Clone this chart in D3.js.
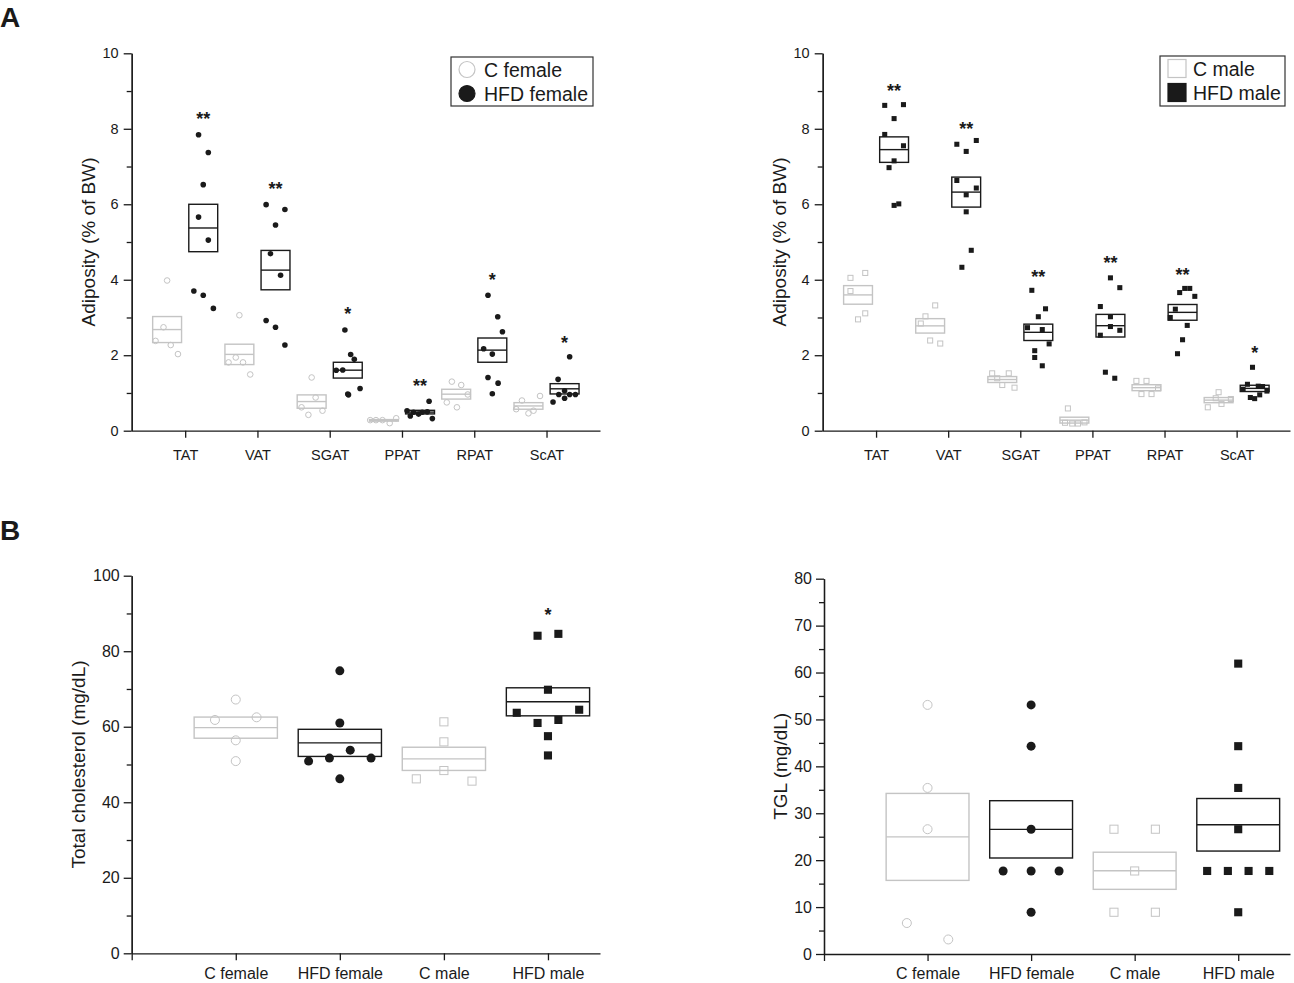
<!DOCTYPE html>
<html>
<head>
<meta charset="utf-8">
<script src="https://cdn.jsdelivr.net/npm/d3@7"></script>
<style>
  body { margin: 0; background: #fff; }
  svg { font-family: Arial, "Liberation Sans", sans-serif; }
</style>
</head>
<body>
<svg id="fig" width="1294" height="983"></svg>
<script>
// ---- data ----
const depots = ["TAT", "VAT", "SGAT", "PPAT", "RPAT", "ScAT"];
const groups = ["C female", "HFD female", "C male", "HFD male"];

// Adiposity (% of BW), one array per depot, one value per animal
const cFemaleAdip = [
  [3.98, 2.74, 2.38, 2.27, 2.03],
  [3.06, 1.94, 1.81, 1.81, 1.49],
  [1.41, 0.88, 0.62, 0.53, 0.42],
  [0.28, 0.28, 0.28, 0.20, 0.33],
  [1.30, 1.21, 0.96, 0.75, 0.62],
  [0.92, 0.80, 0.57, 0.53, 0.46]
];
const hfdFemaleAdip = [
  [7.84, 7.37, 6.52, 5.66, 5.05, 3.70, 3.59, 3.24],
  [5.99, 5.86, 5.45, 4.69, 4.12, 2.92, 2.74, 2.27],
  [2.67, 2.02, 1.89, 1.61, 1.60, 1.12, 0.97, 0.95],
  [0.78, 0.53, 0.50, 0.49, 0.49, 0.44, 0.39, 0.32],
  [3.59, 3.02, 2.62, 2.17, 2.03, 1.41, 1.26, 0.98],
  [1.96, 1.36, 1.06, 0.96, 0.96, 0.96, 0.86, 0.76]
];
const cMaleAdip = [
  [4.18, 4.05, 3.70, 3.11, 2.95],
  [3.32, 3.03, 2.84, 2.39, 2.31],
  [1.52, 1.52, 1.39, 1.21, 1.14],
  [0.59, 0.22, 0.21, 0.19, 0.19],
  [1.32, 1.32, 1.12, 0.97, 0.97],
  [1.02, 0.86, 0.84, 0.71, 0.62]
];
const hfdMaleAdip = [
  [8.64, 8.62, 8.27, 7.85, 7.55, 7.15, 6.97, 6.01, 5.97],
  [7.69, 7.59, 7.40, 6.63, 6.43, 6.25, 5.80, 4.78, 4.33],
  [3.72, 3.23, 3.02, 2.73, 2.68, 2.30, 2.12, 1.94, 1.72],
  [4.05, 3.79, 3.29, 3.02, 2.76, 2.66, 2.53, 1.55, 1.39],
  [3.77, 3.77, 3.66, 3.56, 3.22, 3.00, 2.79, 2.41, 2.04],
  [1.68, 1.23, 1.18, 1.17, 1.10, 1.05, 0.95, 0.88, 0.85]
];

// horizontal scatter of each point, in category units (as plotted in the figure)
const cFemaleAdipJit = [
  [0, -0.05, -0.16, 0.05, 0.15],
  [0, -0.05, -0.15, 0.05, 0.15],
  [0, 0.055, -0.14, 0.15, -0.045],
  [-0.19, -0.11, -0.02, 0.08, 0.17],
  [-0.06, 0.07, 0.16, -0.13, 0.01],
  [0.16, -0.09, -0.17, 0.07, 0]
];
const hfdFemaleAdipJit = [
  [-0.065, 0.07, 0, -0.065, 0.07, -0.13, 0, 0.14],
  [-0.13, 0.13, 0, -0.07, 0.07, -0.13, 0, 0.13],
  [-0.04, 0.04, 0.09, -0.07, -0.16, 0.17, 0, 0.01],
  [0.125, -0.18, 0.1, 0.03, -0.09, -0.02, -0.135, 0.17],
  [-0.06, 0.075, 0.14, -0.12, 0, -0.06, 0.08, 0],
  [0.07, -0.09, 0, -0.08, 0.07, 0.15, 0, -0.16]
];
const cMaleAdipJit = [
  [0.1, -0.105, -0.105, 0.1, 0],
  [0.07, -0.065, -0.13, 0, 0.14],
  [-0.14, 0.09, -0.07, 0, 0.17],
  [-0.09, 0.14, -0.13, -0.03, 0.05],
  [-0.14, 0, 0.16, -0.07, 0.07],
  [0, -0.04, 0.17, 0.04, -0.15]
];
const hfdMaleAdipJit = [
  [0.13, -0.13, 0, -0.13, 0.13, 0, -0.07, 0.065, 0],
  [0.14, -0.13, 0, -0.13, 0.14, 0, 0, 0.07, -0.06],
  [-0.09, 0.1, 0, -0.15, 0.055, 0.15, -0.05, -0.05, 0.055],
  [0, 0.13, -0.14, 0, 0, 0.13, -0.14, -0.07, 0.06],
  [0.03, 0.1, -0.04, 0.17, -0.1, -0.17, 0.065, 0, -0.07],
  [-0.03, -0.1, 0.05, 0.11, -0.16, 0.17, 0.07, -0.06, 0]
];

// significance marks above the HFD groups
const femaleStars = ["**", "**", "*", "**", "*", "*"];
const femaleStarAt = [8.39, 6.54, 3.22, 1.31, 4.13, 2.46];
const maleStars = ["**", "**", "**", "**", "**", "*"];
const maleStarAt = [9.12, 8.11, 4.19, 4.56, 4.26, 2.18];

// Total cholesterol (mg/dL)
const cholValues = [
  [67.2, 62.5, 61.8, 56.4, 50.9],
  [74.8, 61.0, 53.8, 51.7, 51.7, 50.9, 46.2],
  [61.3, 56.0, 48.4, 46.2, 45.6],
  [84.6, 84.1, 69.8, 64.5, 63.7, 61.8, 61.0, 57.5, 52.4]
];
const cholJit = [
  [0, 0.2, -0.2, 0, 0],
  [0, 0, 0.1, -0.1, 0.3, -0.3, 0],
  [0, 0, 0, -0.265, 0.27],
  [0.1, -0.1, 0, 0.3, -0.3, 0.1, -0.1, 0, 0]
];
const cholStars = ["", "", "", "*"];
const cholStarAt = [0, 0, 0, 90.9];

// TGL (mg/dL)
const tglValues = [
  [53.1, 35.4, 26.6, 6.6, 3.1],
  [53.1, 44.3, 26.6, 17.7, 17.7, 17.7, 8.9],
  [26.6, 26.6, 17.7, 8.9, 8.9],
  [61.9, 44.3, 35.4, 26.6, 17.7, 17.7, 17.7, 17.7, 8.9]
];
const tglJit = [
  [0, 0, 0, -0.2, 0.2],
  [0, 0, 0, -0.27, 0, 0.27, 0],
  [-0.2, 0.2, 0, -0.2, 0.2],
  [0, 0, 0, 0, -0.3, -0.1, 0.1, 0.3, 0]
];

// ---- drawing ----
const svg = d3.select("#fig");
const GREY = "#c4c4c4";
const INK = "#1a1a1a";

function styleAxis(sel, fontSize) {
  sel.selectAll("path, line").attr("stroke", INK).attr("stroke-width", 1.3);
  sel.selectAll("text").attr("fill", INK).style("font-size", fontSize + "px");
}

function drawPanel(p) {
  const g = svg.append("g");
  const x = d3.scaleLinear().domain(p.xDomain).range([p.left, p.right]);
  const y = d3.scaleLinear().domain(p.yDomain).range([p.bottom, p.top]);

  // minor + major y ticks
  g.append("g")
    .attr("transform", "translate(" + p.left + ",0)")
    .call(d3.axisLeft(y).tickValues(p.yMinor).tickSize(5).tickFormat("").tickSizeOuter(0))
    .call(styleAxis, p.tickFont);
  g.append("g")
    .attr("transform", "translate(" + p.left + ",0)")
    .call(d3.axisLeft(y).tickValues(p.yMajor).tickSize(8).tickPadding(p.yPad).tickSizeOuter(0))
    .call(styleAxis, p.tickFont);

  // category axis
  g.append("g")
    .attr("transform", "translate(0," + p.bottom + ")")
    .call(d3.axisBottom(x).tickValues(p.xTicks)
      .tickFormat(i => p.categories[i - 1] || "")
      .tickSize(7).tickPadding(p.xPad).tickSizeOuter(0))
    .call(styleAxis, p.tickFont);

  // y label
  g.append("text")
    .attr("transform", "translate(" + p.labelX + "," + (p.top + p.bottom) / 2 + ") rotate(-90)")
    .attr("text-anchor", "middle")
    .attr("dy", "0.35em")
    .style("font-size", "19px")
    .attr("fill", INK)
    .text(p.yLabel);

  // mean ± SE boxes, then the individual points
  p.series.forEach(s => {
    const col = s.dark ? INK : GREY;
    const cx = s.cat + s.shift;
    const m = d3.mean(s.values);
    const se = d3.deviation(s.values) / Math.sqrt(s.values.length);
    const x0 = x(cx - p.boxWidth / 2), x1 = x(cx + p.boxWidth / 2);

    g.append("rect")
      .attr("x", x0).attr("width", x1 - x0)
      .attr("y", y(m + se)).attr("height", y(m - se) - y(m + se))
      .attr("fill", "none").attr("stroke", col).attr("stroke-width", 1.4);
    g.append("line")
      .attr("x1", x0).attr("x2", x1)
      .attr("y1", y(m)).attr("y2", y(m))
      .attr("stroke", col).attr("stroke-width", 1.4);

    const pts = s.values.map((v, i) => ({ v: v, j: s.jitter[i] }));
    if (s.shape === "circle") {
      g.selectAll(null).data(pts).enter().append("circle")
        .attr("cx", d => x(cx + d.j))
        .attr("cy", d => y(d.v))
        .attr("r", p.markR)
        .attr("fill", s.dark ? INK : "none")
        .attr("stroke", col).attr("stroke-width", s.dark ? 0 : 1);
    } else {
      const sz = p.markR * 1.8;
      g.selectAll(null).data(pts).enter().append("rect")
        .attr("x", d => x(cx + d.j) - sz / 2)
        .attr("y", d => y(d.v) - sz / 2)
        .attr("width", sz).attr("height", sz)
        .attr("fill", s.dark ? INK : "none")
        .attr("stroke", col).attr("stroke-width", s.dark ? 0 : 1);
    }
  });

  // significance asterisks
  g.selectAll(".star")
    .data(p.stars)
    .enter().append("text")
    .attr("class", "star")
    .attr("x", d => x(d.cat))
    .attr("y", d => y(d.at))
    .attr("dy", "0.6em")
    .attr("text-anchor", "middle")
    .style("font-size", "18px")
    .style("font-weight", "bold")
    .attr("fill", INK)
    .text(d => d.mark);

  return { x, y };
}

function adiposityPanel(left, right, labelX, cVals, cJit, hVals, hJit, shape, marks, markAt) {
  const series = [];
  depots.forEach((d, i) => {
    series.push({ cat: i + 1, shift: -0.25, values: cVals[i], jitter: cJit[i], dark: false, shape: shape });
    series.push({ cat: i + 1, shift: 0.25, values: hVals[i], jitter: hJit[i], dark: true, shape: shape });
  });
  drawPanel({
    left: left, right: right, top: 53.3, bottom: 430.7,
    xDomain: [0.26, 6.74], xTicks: [1, 2, 3, 4, 5, 6], categories: depots,
    yDomain: [0, 10], yMajor: [0, 2, 4, 6, 8, 10], yMinor: [1, 3, 5, 7, 9],
    tickFont: 14.5, xPad: 12, yPad: 5,
    labelX: labelX, yLabel: "Adiposity (% of BW)",
    boxWidth: 0.4, markR: 2.8,
    series: series,
    stars: marks.map((m, i) => ({ cat: i + 1.25, at: markAt[i], mark: m }))
  });
}

adiposityPanel(131.7, 600, 88, cFemaleAdip, cFemaleAdipJit, hfdFemaleAdip, hfdFemaleAdipJit,
  "circle", femaleStars, femaleStarAt);
adiposityPanel(822.7, 1290, 779, cMaleAdip, cMaleAdipJit, hfdMaleAdip, hfdMaleAdipJit,
  "square", maleStars, maleStarAt);

function groupSeries(vals, jit) {
  return groups.map((gname, i) => ({
    cat: i + 1, shift: 0, values: vals[i], jitter: jit[i],
    dark: gname.startsWith("HFD"),
    shape: gname.endsWith("female") ? "circle" : "square"
  }));
}

drawPanel({
  left: 131.7, right: 600, top: 575.7, bottom: 953.3,
  xDomain: [0, 4.5], xTicks: [0, 1, 2, 3, 4], categories: groups,
  yDomain: [0, 100], yMajor: [0, 20, 40, 60, 80, 100], yMinor: [10, 30, 50, 70, 90],
  tickFont: 16, xPad: 7, yPad: 4,
  labelX: 78, yLabel: "Total cholesterol (mg/dL)",
  boxWidth: 0.8, markR: 4.5,
  series: groupSeries(cholValues, cholJit),
  stars: cholStars.map((m, i) => ({ cat: i + 1, at: cholStarAt[i], mark: m })).filter(d => d.mark)
});

drawPanel({
  left: 824, right: 1290, top: 578.7, bottom: 954,
  xDomain: [0, 4.5], xTicks: [0, 1, 2, 3, 4], categories: groups,
  yDomain: [0, 80], yMajor: d3.range(0, 81, 10), yMinor: d3.range(5, 80, 10),
  tickFont: 16, xPad: 7, yPad: 4,
  labelX: 780, yLabel: "TGL (mg/dL)",
  boxWidth: 0.8, markR: 4.5,
  series: groupSeries(tglValues, tglJit),
  stars: []
});

// legends
function legend(x0, y0, w, h, shape, labels) {
  const g = svg.append("g");
  g.append("rect").attr("x", x0).attr("y", y0).attr("width", w).attr("height", h)
    .attr("fill", "#fff").attr("stroke", "#333").attr("stroke-width", 1.2);
  labels.forEach((lab, i) => {
    const cy = y0 + 12.5 + i * 24;
    const dark = i === 1;
    if (shape === "circle") {
      g.append("circle").attr("cx", x0 + 16).attr("cy", cy).attr("r", 8)
        .attr("fill", dark ? INK : "#fff").attr("stroke", dark ? INK : GREY).attr("stroke-width", 1.2);
    } else {
      g.append("rect").attr("x", x0 + 8).attr("y", cy - 9).attr("width", 18).attr("height", 18)
        .attr("fill", dark ? INK : "#fff").attr("stroke", dark ? INK : GREY).attr("stroke-width", 1.2);
    }
    g.append("text").attr("x", x0 + 33).attr("y", cy + 7.5)
      .style("font-size", "19.5px").attr("fill", INK).text(lab);
  });
}
legend(451, 57, 142, 49, "circle", ["C female", "HFD female"]);
legend(1160, 56, 125, 50, "square", ["C male", "HFD male"]);

// panel letters
svg.append("text").attr("x", 0).attr("y", 27).style("font-size", "28px")
  .style("font-weight", "bold").attr("fill", INK).text("A");
svg.append("text").attr("x", 0).attr("y", 540).style("font-size", "28px")
  .style("font-weight", "bold").attr("fill", INK).text("B");
</script>
</body>
</html>
